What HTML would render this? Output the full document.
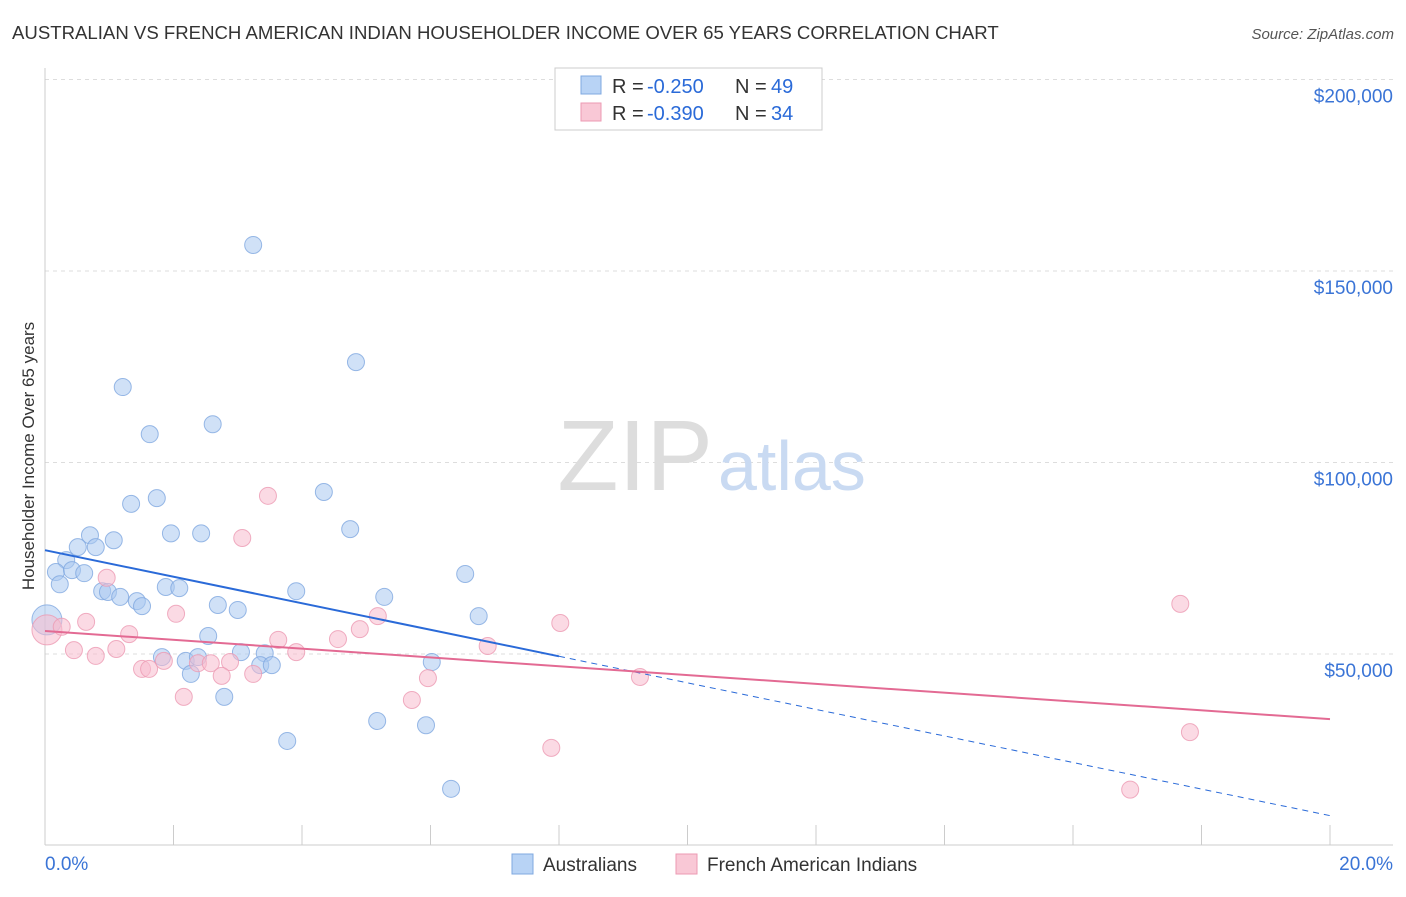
<!DOCTYPE html>
<html><head><meta charset="utf-8"><style>
body{margin:0;background:#fff;font-family:"Liberation Sans",sans-serif;}
svg text{font-family:"Liberation Sans",sans-serif;}
</style></head><body>
<svg width="1406" height="892" viewBox="0 0 1406 892">
<text x="12" y="39" font-size="18.6" fill="#333">AUSTRALIAN VS FRENCH AMERICAN INDIAN HOUSEHOLDER INCOME OVER 65 YEARS CORRELATION CHART</text>
<text x="1394" y="39" font-size="15" fill="#555" font-style="italic" text-anchor="end">Source: ZipAtlas.com</text>
<g id="grid"></g>
<g id="axes"></g>
<text x="713" y="490" font-size="100" fill="#ddd" font-family="Liberation Serif" text-anchor="end">ZIP</text>
<text x="718" y="490" font-size="70" fill="#c9daf2">atlas</text>
<g id="pts"></g>
<g id="trends"></g>
<text transform="translate(34,456) rotate(-90)" font-size="17" fill="#333" text-anchor="middle">Householder Income Over 65 years</text>
<g>
<rect x="555" y="68" width="267" height="62" fill="#fff" stroke="#ccc"/>
<rect x="581" y="76" width="20" height="18" fill="#b8d3f5" stroke="#7fa8e0"/>
<rect x="581" y="103" width="20" height="18" fill="#f9c8d6" stroke="#ec9ab3"/>
<text x="612" y="93" font-size="20" fill="#333">R =</text>
<text x="647" y="93" font-size="20" fill="#2a6ad8">-0.250</text>
<text x="735" y="93" font-size="20" fill="#333">N =</text>
<text x="771" y="93" font-size="20" fill="#2a6ad8">49</text>
<text x="612" y="120" font-size="20" fill="#333">R =</text>
<text x="647" y="120" font-size="20" fill="#2a6ad8">-0.390</text>
<text x="735" y="120" font-size="20" fill="#333">N =</text>
<text x="771" y="120" font-size="20" fill="#2a6ad8">34</text>
</g>
<g>
<rect x="512" y="854" width="21" height="20" fill="#b8d3f5" stroke="#7fa8e0"/>
<text x="543" y="871" font-size="19" fill="#333">Australians</text>
<rect x="676" y="854" width="21" height="20" fill="#f9c8d6" stroke="#ec9ab3"/>
<text x="707" y="871" font-size="19" fill="#333">French American Indians</text>
</g>
</svg>
<script>
const yTicks=[50000,100000,150000,200000];
const yTickLabels=["$50,000","$100,000","$150,000","$200,000"];
const xTickLabels=["0.0%","20.0%"];
const blueX=[1.21,1.63,2.61,3.24,4.84,1.74,1.34,4.34,4.75,0.70,1.07,1.96,2.43,0.51,0.79,0.33,0.17,0.42,0.61,0.23,0.89,0.98,1.17,1.43,1.51,1.88,2.09,2.69,3.00,3.91,5.28,6.54,6.75,2.54,1.82,2.19,2.38,3.05,3.42,3.35,3.53,6.02,2.27,2.79,5.17,5.93,3.77,6.32,0.03];
const blueY=[119.7,107.4,110.0,156.8,126.2,90.7,89.2,92.3,82.6,81.0,79.7,81.5,81.5,77.9,77.9,74.5,71.4,71.9,71.1,68.2,66.4,66.2,64.9,63.8,62.5,67.5,67.2,62.8,61.5,66.4,64.9,70.9,59.9,54.7,49.2,48.2,49.2,50.5,50.2,47.1,47.1,47.9,44.8,38.8,32.5,31.4,27.3,14.8,58.9];
const pinkX=[0.03,0.26,0.64,0.96,0.45,0.79,1.11,1.31,2.04,1.51,1.62,1.85,2.38,2.58,2.88,2.16,2.75,3.24,3.63,3.91,3.07,3.47,4.56,4.90,5.18,5.71,5.96,6.89,7.88,8.02,9.26,17.67,17.82,16.89];
const pinkY=[56.3,57.1,58.4,69.9,51.0,49.5,51.3,55.2,60.5,46.1,46.1,48.2,47.6,47.6,47.9,38.8,44.3,44.8,53.7,50.5,80.3,91.3,53.9,56.5,59.9,38.0,43.7,52.1,25.5,58.1,44.0,63.1,29.6,14.6];
const blueTrend=[77.1,49.4,7.8]; // at x=0, 8, 20
const pinkTrend=[56.0,33.0]; // at x=0, 20
const NS='http://www.w3.org/2000/svg';
const X=v=>45+v/20*1285;
const Y=v=>845.5-v/50*191.5;
function mk(t,a,p){const e=document.createElementNS(NS,t);for(const k in a)e.setAttribute(k,a[k]);p.appendChild(e);return e;}
const grid=document.getElementById('grid'),axes=document.getElementById('axes'),pts=document.getElementById('pts'),tr=document.getElementById('trends');
yTicks.forEach((t,i)=>{const y=Y(t/1000);
const l=mk('line',{x1:45,x2:1393,y1:y,y2:y,stroke:'#ddd','stroke-dasharray':'4,4'},grid);


const tx=mk('text',{x:1393,y:y+23,'font-size':19,fill:'#3a74d6','text-anchor':'end'},grid);tx.textContent=yTickLabels[i];

});
mk('line',{x1:45,x2:45,y1:68,y2:845,stroke:'#ccc'},axes);
mk('line',{x1:45,x2:1393,y1:845,y2:845,stroke:'#ccc'},axes);
for(let i=0;i<=10;i++){const x=X(i*2);const l=mk('line',{x1:x,x2:x,y1:825,y2:845,stroke:'#ccc'},axes);

}
[[0,'start',45],[1,'end',1393]].forEach(([i,a,x])=>{const t=mk('text',{x:x,y:870,'font-size':19,fill:'#3a74d6','text-anchor':a},axes);t.textContent=xTickLabels[i];

});
function dot(x,y,r,f,s,n){const c=mk('circle',{cx:X(x),cy:Y(y),r:r,fill:f,'fill-opacity':0.55,stroke:s,'stroke-width':1,'stroke-opacity':0.8},pts);

}
blueX.forEach((x,i)=>dot(x,blueY[i],i==blueX.length-1?15:8.5,'#a9c8f0','#7fa8e0','australians-point'));
pinkX.forEach((x,i)=>dot(x,pinkY[i],i==0?15:8.5,'#f7bccd','#ec9ab3','french-american-indians-point'));
let l=mk('line',{x1:X(0),y1:Y(blueTrend[0]),x2:X(8),y2:Y(blueTrend[1]),stroke:'#2a6ad8','stroke-width':2},tr);


l=mk('line',{x1:X(8),y1:Y(blueTrend[1]),x2:X(20),y2:Y(blueTrend[2]),stroke:'#2a6ad8','stroke-width':1,'stroke-dasharray':'6,5'},tr);


l=mk('line',{x1:X(0),y1:Y(pinkTrend[0]),x2:X(20),y2:Y(pinkTrend[1]),stroke:'#e36a93','stroke-width':2},tr);


</script>
</body></html>
